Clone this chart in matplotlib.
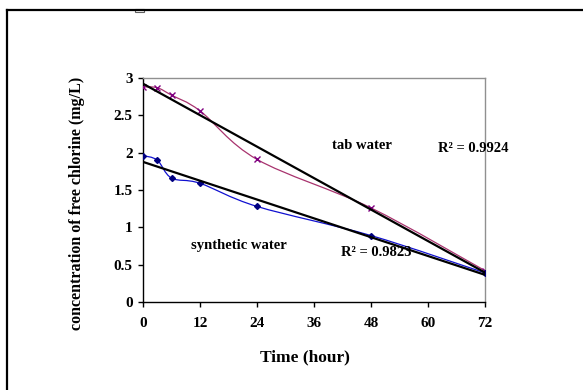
import matplotlib
matplotlib.use("Agg")
import matplotlib.pyplot as plt
import numpy as np
from matplotlib.path import Path
from matplotlib.patches import PathPatch, Rectangle
from matplotlib.lines import Line2D

plt.rcParams['font.family'] = ['Liberation Serif', 'DejaVu Serif']
plt.rcParams['font.weight'] = 'bold'
plt.rcParams['axes.labelweight'] = 'bold'

hours = [0, 3, 6, 12, 24, 48, 72]
tab_water = [2.88, 2.87, 2.77, 2.56, 1.91, 1.26, 0.42]
synthetic_water = [1.96, 1.90, 1.66, 1.59, 1.28, 0.89, 0.39]
x_ticks = [0, 12, 24, 36, 48, 60, 72]
y_ticks = [0, 0.5, 1, 1.5, 2, 2.5, 3]


def smooth_path(x, y):
    # excel style smoothed line: bezier segments through the points
    x = np.asarray(x, float)
    y = np.asarray(y, float)
    verts = [(x[0], y[0])]
    codes = [Path.MOVETO]
    n = len(x)
    for i in range(n - 1):
        x0, y0 = (x[i - 1], y[i - 1]) if i > 0 else (x[i], y[i])
        x3, y3 = (x[i + 2], y[i + 2]) if i + 2 < n else (x[i + 1], y[i + 1])
        c1 = (x[i] + (x[i + 1] - x0) / 6, y[i] + (y[i + 1] - y0) / 6)
        c2 = (x[i + 1] - (x3 - x[i]) / 6, y[i + 1] - (y3 - y[i]) / 6)
        verts += [c1, c2, (x[i + 1], y[i + 1])]
        codes += [Path.CURVE4] * 3
    return Path(verts, codes)


fig = plt.figure(figsize=(5.83, 3.9), dpi=100)
ax = fig.add_axes([0.2453, 0.2256, 0.5866, 0.5744])

ax.add_patch(PathPatch(smooth_path(hours, tab_water), fill=False,
                       edgecolor='#A8336E', lw=0.9, zorder=3))
ax.add_patch(PathPatch(smooth_path(hours, synthetic_water), fill=False,
                       edgecolor='#1010D0', lw=0.9, zorder=3))
ax.plot(hours, tab_water, ls='none', marker='x', ms=5, mew=1,
        color='#800080', zorder=4)
ax.plot(hours, synthetic_water, ls='none', marker='D', ms=3,
        color='#000080', zorder=4)

xs = np.array([0, 72])
for series in (tab_water, synthetic_water):
    k, b = np.polyfit(hours, series, 1)
    ax.plot(xs, k * xs + b, color='black', lw=1.6, zorder=5)

ax.text(46, 2.09, 'tab water', ha='center', va='center', fontsize=10.5)
ax.text(69.5, 2.06, 'R² = 0.9924', ha='center', va='center', fontsize=10.5)
ax.text(20.2, 0.76, 'synthetic water', ha='center', va='center', fontsize=10.5)
ax.text(49, 0.66, 'R² = 0.9823', ha='center', va='center', fontsize=10.5)

ax.set_xlim(0, 72)
ax.set_ylim(0, 3)
ax.set_xticks(x_ticks)
ax.set_yticks(y_ticks)
ax.set_yticklabels(['%g' % v for v in y_ticks])
ax.tick_params(direction='out', length=3.5, width=1, labelsize=11)
ax.tick_params(axis='x', pad=7)
ax.tick_params(axis='y', pad=4)
for s in ('top', 'right'):
    ax.spines[s].set_color('#909090')
    ax.spines[s].set_linewidth(1)
for s in ('left', 'bottom'):
    ax.spines[s].set_color('black')
    ax.spines[s].set_linewidth(1)

ax.set_xlabel('Time (hour)', fontsize=12.5, va='center')
ax.set_ylabel('concentration of free chlorine (mg/L)', fontsize=11.5,
              va='center')
ax.xaxis.set_label_coords(0.474, -0.245)
ax.yaxis.set_label_coords(-0.193, 0.442)

# outer chart frame (only top and left edges visible)
fig.add_artist(Line2D([7 / 583, 1], [1 - 10 / 390, 1 - 10 / 390],
                      color='black', lw=1.6, transform=fig.transFigure))
fig.add_artist(Line2D([7 / 583, 7 / 583], [0, 1 - 10 / 390],
                      color='black', lw=1.6, transform=fig.transFigure))
fig.add_artist(Rectangle((135 / 583, 1 - 12 / 390), 9 / 583, 3 / 390,
                         fill=False, edgecolor='#606060', lw=0.8,
                         transform=fig.transFigure))

fig.savefig('out.png', dpi=100)
